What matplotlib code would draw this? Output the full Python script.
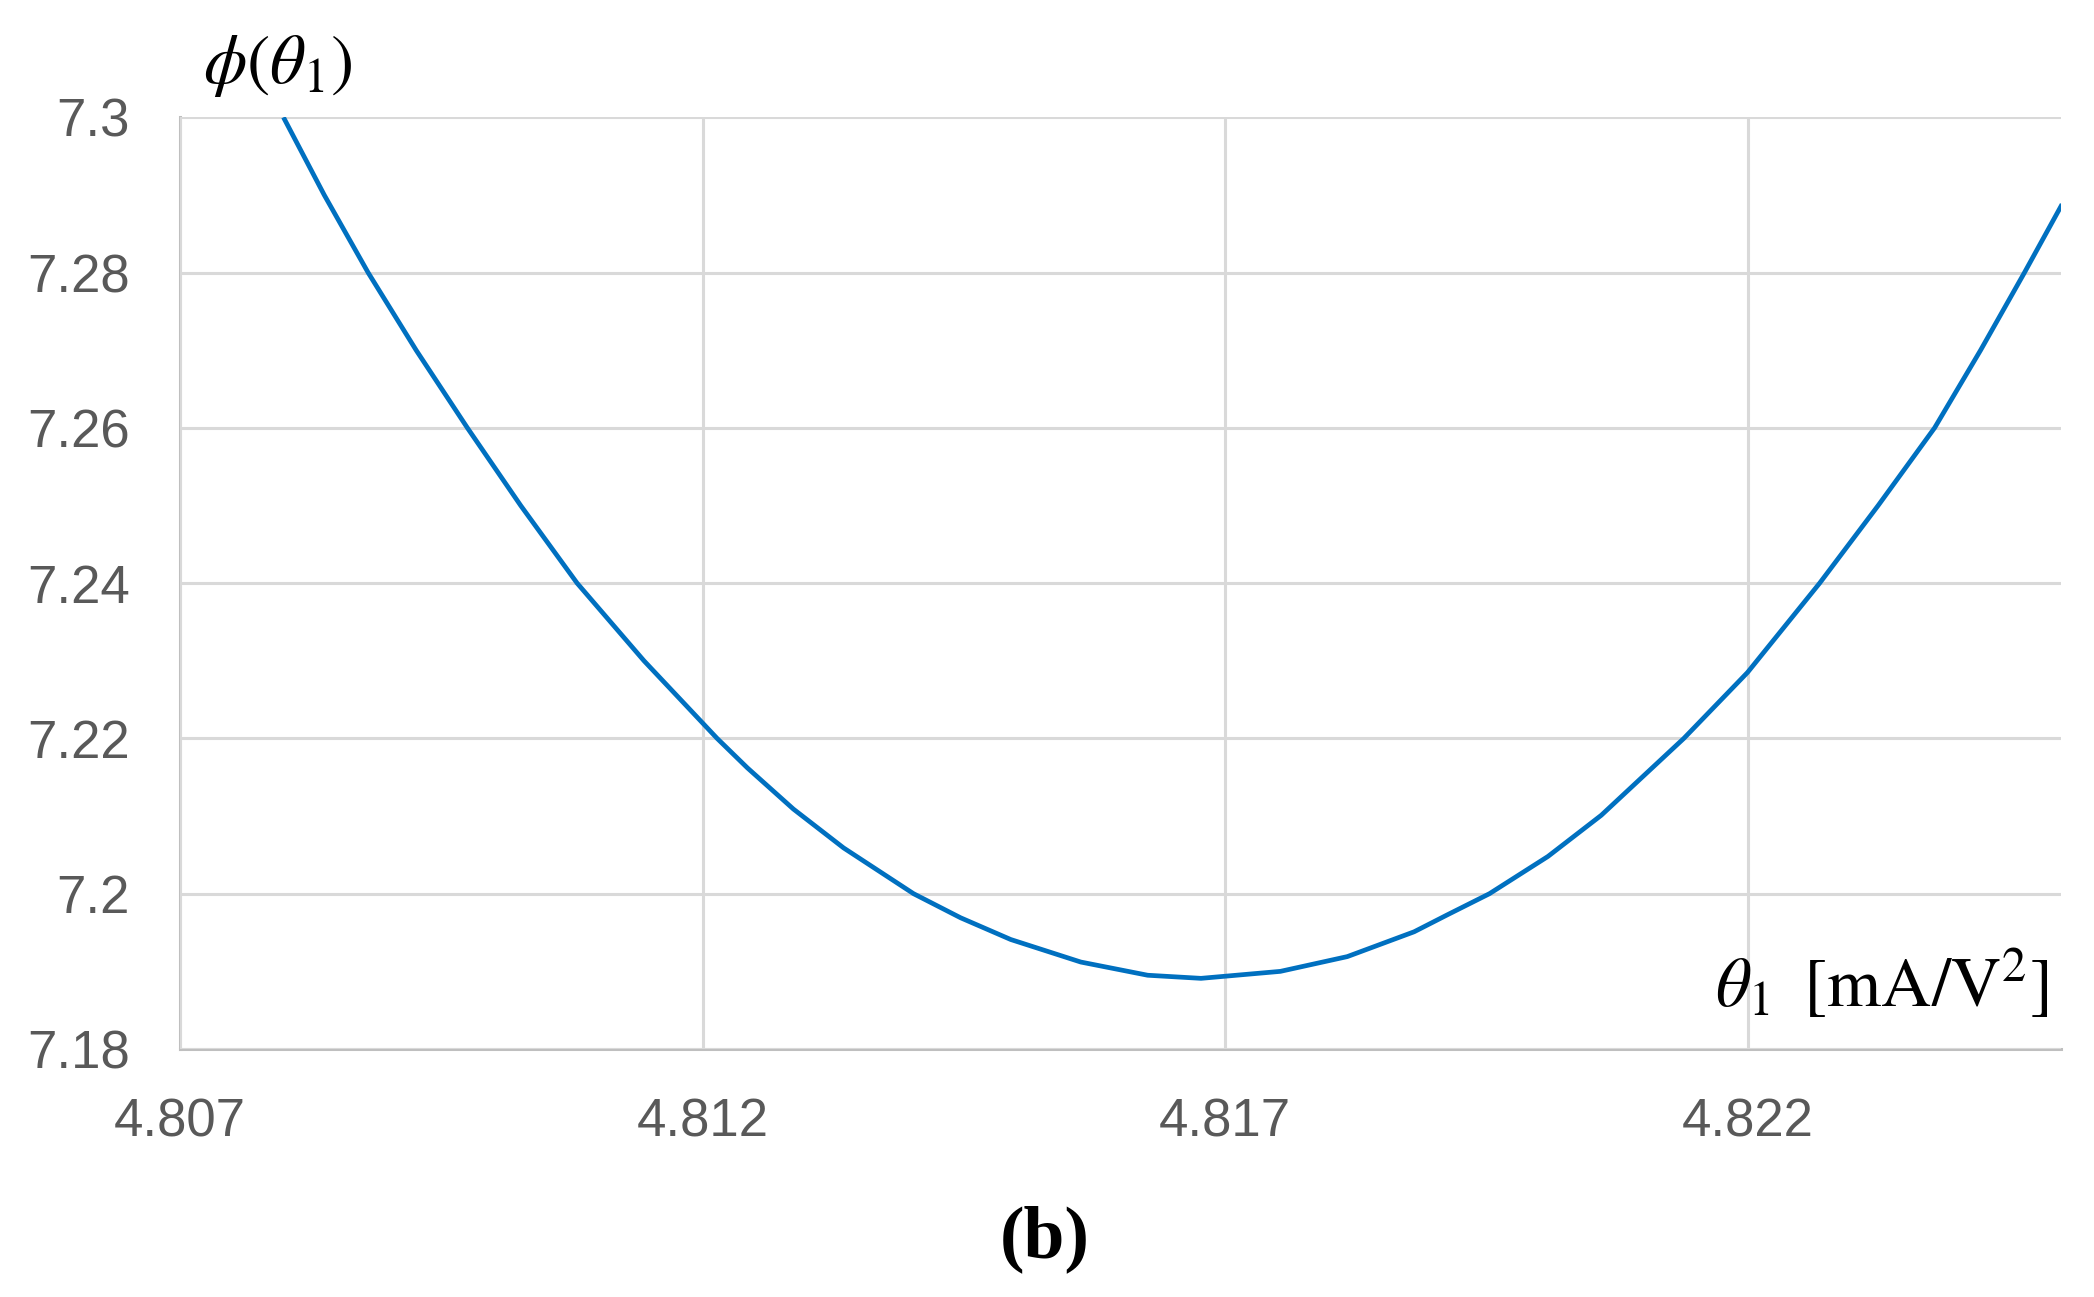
import matplotlib
matplotlib.use("Agg")
import matplotlib.pyplot as plt

plt.rcParams['mathtext.fontset'] = 'stix'

# Data
theta1 = [4.80799, 4.80838, 4.80880, 4.80926, 4.80975, 4.81026, 4.81080, 4.81144,
          4.81214, 4.81243, 4.81287, 4.81335, 4.81402, 4.81447, 4.81495, 4.81562,
          4.81626, 4.81677, 4.81753, 4.81817, 4.81881, 4.81913, 4.81953, 4.82009,
          4.82060, 4.82139, 4.82200, 4.82269, 4.82325, 4.82379, 4.82423, 4.82465,
          4.82501]
phi = [7.3000, 7.2900, 7.2800, 7.2700, 7.2600, 7.2500, 7.2400, 7.2300,
       7.2200, 7.2162, 7.2109, 7.2059, 7.2000, 7.1969, 7.1941, 7.1912,
       7.1895, 7.1891, 7.1900, 7.1919, 7.1951, 7.1973, 7.2000, 7.2048,
       7.2101, 7.2200, 7.2285, 7.2400, 7.2500, 7.2600, 7.2700, 7.2800,
       7.2888]

x_ticks = [4.807, 4.812, 4.817, 4.822]
x_tick_labels = ["4.807", "4.812", "4.817", "4.822"]
y_ticks = [7.18, 7.20, 7.22, 7.24, 7.26, 7.28, 7.30]
y_tick_labels = ["7.18", "7.2", "7.22", "7.24", "7.26", "7.28", "7.3"]

fig = plt.figure(figsize=(20.94, 12.97), dpi=100)
ax = fig.add_axes([0.08596, 0.19121, 0.8983, 0.71835])

ax.plot(theta1, phi, color='#0070C0', lw=3.4, solid_joinstyle='round',
        solid_capstyle='butt', zorder=3)

ax.set_xlim(4.807, 4.825)
ax.set_ylim(7.18, 7.30)
ax.set_xticks(x_ticks)
ax.set_xticklabels(x_tick_labels)
ax.set_yticks(y_ticks)
ax.set_yticklabels(y_tick_labels)

ax.grid(True, color='#D9D9D9', lw=2.2, zorder=0)
for s in ['top', 'right']:
    ax.spines[s].set_visible(False)
for s in ['left', 'bottom']:
    ax.spines[s].set_color('#BFBFBF')
    ax.spines[s].set_linewidth(2.2)
    ax.spines[s].set_zorder(1)

ax.tick_params(axis='both', length=0, labelsize=38, labelcolor='#595959')
ax.tick_params(axis='x', pad=35)
ax.tick_params(axis='y', pad=36)
for lab in ax.get_xticklabels() + ax.get_yticklabels():
    lab.set_fontfamily('Liberation Sans')

fig.text(203 / 2094, 1 - 83 / 1297, r'$\phi(\theta_1)$', fontsize=50,
         ha='left', va='baseline', color='black')
fig.text(2048 / 2094, 1 - 1007 / 1297, r'$\theta_1\;\;[\mathrm{mA/V}^2]$', fontsize=50,
         ha='right', va='baseline', color='black')
fig.text(1045 / 2094, 1 - 1257 / 1297, '(b)', fontsize=53, fontweight='bold',
         family='Liberation Serif', ha='center', va='baseline', color='black')

fig.savefig('out.png', dpi=100)
